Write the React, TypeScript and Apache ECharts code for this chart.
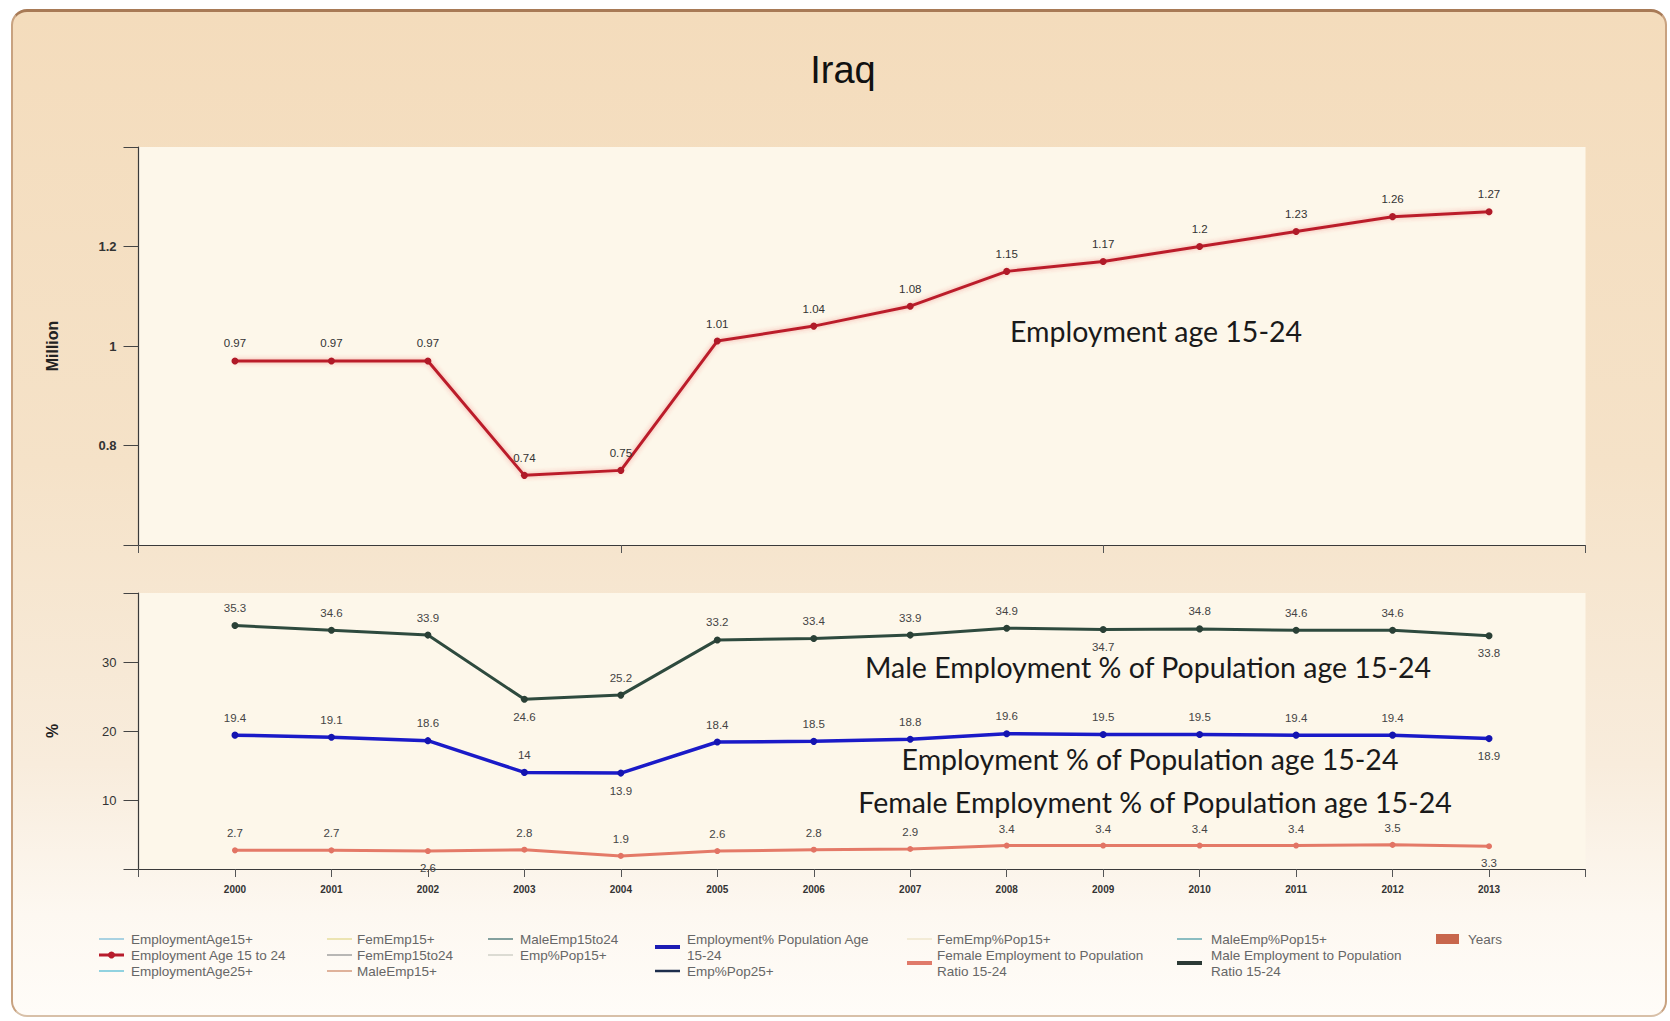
import React, { useEffect, useRef } from "react";
import * as echarts from "echarts";

// ---------- data ----------
const years = [2000, 2001, 2002, 2003, 2004, 2005, 2006, 2007, 2008, 2009, 2010, 2011, 2012, 2013];
const employment1524 = [0.97, 0.97, 0.97, 0.74, 0.75, 1.01, 1.04, 1.08, 1.15, 1.17, 1.2, 1.23, 1.26, 1.27];
const maleEmpPct = [35.3, 34.6, 33.9, 24.6, 25.2, 33.2, 33.4, 33.9, 34.9, 34.7, 34.8, 34.6, 34.6, 33.8];
const totalEmpPct = [19.4, 19.1, 18.6, 14, 13.9, 18.4, 18.5, 18.8, 19.6, 19.5, 19.5, 19.4, 19.4, 18.9];
const femaleEmpPct = [2.7, 2.7, 2.6, 2.8, 1.9, 2.6, 2.8, 2.9, 3.4, 3.4, 3.4, 3.4, 3.5, 3.3];

// indices whose value label sits below the point
const maleBelow = [3, 9, 13];
const totalBelow = [4, 13];
const femaleBelow = [2, 13];

const titleText = "Iraq";
const topAnnotation = "Employment age 15-24";
const maleAnnotation = "Male Employment % of Population age 15-24";
const totalAnnotation = "Employment % of Population age 15-24";
const femaleAnnotation = "Female Employment % of Population age 15-24";

// legend entries: [label lines, colour, kind]
const legendItems: { lines: string[]; color: string; kind: string }[] = [
  { lines: ["EmploymentAge15+"], color: "#8cc4dc", kind: "thin" },
  { lines: ["Employment Age 15 to 24"], color: "#b81c2c", kind: "marker" },
  { lines: ["EmploymentAge25+"], color: "#6cc4d8", kind: "thin" },
  { lines: ["FemEmp15+"], color: "#e6dc9c", kind: "thin" },
  { lines: ["FemEmp15to24"], color: "#a0a0a0", kind: "thin" },
  { lines: ["MaleEmp15+"], color: "#d49a7c", kind: "thin" },
  { lines: ["MaleEmp15to24"], color: "#5a8282", kind: "thin" },
  { lines: ["Emp%Pop15+"], color: "#d0d0c8", kind: "thin" },
  { lines: ["Employment% Population Age", "15-24"], color: "#1c1cb4", kind: "thick" },
  { lines: ["Emp%Pop25+"], color: "#1e2e4c", kind: "mid" },
  { lines: ["FemEmp%Pop15+"], color: "#efe6cc", kind: "thin" },
  { lines: ["Female Employment to Population", "Ratio 15-24"], color: "#e07a6a", kind: "thick" },
  { lines: ["MaleEmp%Pop15+"], color: "#64a8b0", kind: "thin" },
  { lines: ["Male Employment to Population", "Ratio 15-24"], color: "#2c3a36", kind: "thick" },
  { lines: ["Years"], color: "#c8664c", kind: "rect" },
];

const NARROW = '"Liberation Sans Narrow", "Liberation Sans", Arial, sans-serif';
const CAL = 'Lato, "Open Sans", sans-serif';

function buildData(vals: number[], below: number[]) {
  return years.map((y, i) => ({
    value: [y, vals[i]],
    label: below.indexOf(i) >= 0 ? { position: "bottom" } : { position: "top" },
  }));
}

function buildLegend() {
  const cols = [
    { sx: 99, tx: 131, items: [0, 1, 2] },
    { sx: 327, tx: 357, items: [3, 4, 5] },
    { sx: 488, tx: 520, items: [6, 7] },
    { sx: 655, tx: 687, items: [8, 9] },
    { sx: 907, tx: 937, items: [10, 11] },
    { sx: 1177, tx: 1211, items: [12, 13] },
    { sx: 1436, tx: 1468, items: [14] },
  ];
  const els: any[] = [];
  cols.forEach((c) => {
    let y = 939;
    c.items.forEach((idx) => {
      const it = legendItems[idx];
      const n = it.lines.length;
      const symY = y + ((n - 1) * 16) / 2;
      if (it.kind === "rect") {
        els.push({ type: "rect", shape: { x: c.sx, y: symY - 5, width: 23, height: 10 }, style: { fill: it.color } });
      } else {
        const w = it.kind === "thick" ? 4 : it.kind === "mid" ? 2.5 : it.kind === "marker" ? 3 : 1.5;
        els.push({ type: "line", shape: { x1: c.sx, y1: symY, x2: c.sx + 25, y2: symY }, style: { stroke: it.color, lineWidth: w } });
        if (it.kind === "marker") {
          els.push({ type: "circle", shape: { cx: c.sx + 12.5, cy: symY, r: 3.5 }, style: { fill: it.color } });
        }
      }
      it.lines.forEach((ln, k) => {
        els.push({
          type: "text",
          x: c.tx,
          y: y + k * 16,
          style: { text: ln, fill: "#666", font: `13.5px ${NARROW}`, textVerticalAlign: "middle", verticalAlign: "middle" },
        });
      });
      y += n * 16;
    });
  });
  return els;
}

export default function App() {
  const ref = useRef<HTMLDivElement>(null);
  useEffect(() => {
    if (!ref.current) return;
    const chart = echarts.init(ref.current, undefined, { renderer: "svg" });
    const axisLine = { show: true, lineStyle: { color: "#3a3a3a", width: 1.2 } };
    const gridLeft = 138.5;
    const gridRight = 1670 - 1585.5;
    const annStyle = (text: string) => ({
      text, font: `28.5px ${CAL}`, fill: "#1a1a1a", align: "center", verticalAlign: "middle", textAlign: "center", textVerticalAlign: "middle",
    });
    const option: any = {
      animation: false,
      backgroundColor: "transparent",
      grid: [
        { left: gridLeft, right: gridRight, top: 147, height: 398, show: true, backgroundColor: "#fdf7ea", borderWidth: 0 },
        { left: gridLeft, right: gridRight, top: 593, height: 276, show: true, backgroundColor: "#fdf7ea", borderWidth: 0 },
      ],
      xAxis: [
        {
          type: "value", gridIndex: 0, min: 1999, max: 2014, interval: 5,
          axisLine, splitLine: { show: false },
          axisTick: { show: true, length: 8, lineStyle: { color: "#555" } },
          axisLabel: { show: false },
        },
        {
          type: "value", gridIndex: 1, min: 1999, max: 2014, interval: 1,
          axisLine, splitLine: { show: false },
          axisTick: { show: true, length: 8, lineStyle: { color: "#555" } },
          axisLabel: {
            color: "#333", fontSize: 10, fontFamily: NARROW, fontWeight: "bold", margin: 15,
            formatter: (v: number) => (v < 2000 || v > 2013 ? "" : String(v)),
          },
        },
      ],
      yAxis: [
        {
          type: "value", gridIndex: 0, min: 0.6, max: 1.4, interval: 0.2,
          axisLine, splitLine: { show: false },
          axisTick: { show: true, length: 15, lineStyle: { color: "#444" } },
          axisLabel: {
            color: "#333", fontSize: 13, fontWeight: "bold", fontFamily: NARROW, margin: 22,
            formatter: (v: number) => {
              const r = Math.round(v * 10) / 10;
              return r <= 0.6 || r >= 1.4 ? "" : String(r);
            },
          },
          name: "Million", nameLocation: "middle", nameGap: 78,
          nameTextStyle: { fontSize: 16, fontWeight: "bold", color: "#222", fontFamily: "Liberation Sans, Arial, sans-serif" },
        },
        {
          type: "value", gridIndex: 1, min: 0, max: 40, interval: 10,
          axisLine, splitLine: { show: false },
          axisTick: { show: true, length: 15, lineStyle: { color: "#444" } },
          axisLabel: {
            color: "#333", fontSize: 13, fontFamily: NARROW, margin: 22,
            formatter: (v: number) => (v <= 0 || v >= 40 ? "" : String(v)),
          },
          name: "%", nameLocation: "middle", nameGap: 78,
          nameTextStyle: { fontSize: 16, fontWeight: "bold", color: "#222", fontFamily: "Liberation Sans, Arial, sans-serif" },
        },
      ],
      series: [
        {
          type: "line", xAxisIndex: 0, yAxisIndex: 0, name: "Employment Age 15 to 24",
          data: buildData(employment1524, []),
          symbol: "circle", symbolSize: 7,
          lineStyle: { color: "#bb1e2c", width: 3, shadowColor: "rgba(230,60,60,0.45)", shadowBlur: 5 },
          itemStyle: { color: "#b01a28" },
          label: { show: true, color: "#333", fontSize: 11.5, fontFamily: NARROW, distance: 8 },
        },
        {
          type: "line", xAxisIndex: 1, yAxisIndex: 1, name: "Male Employment to Population Ratio 15-24",
          data: buildData(maleEmpPct, maleBelow),
          symbol: "circle", symbolSize: 7,
          lineStyle: { color: "#2e4a3e", width: 3 },
          itemStyle: { color: "#2a4036" },
          label: { show: true, color: "#444", fontSize: 11.5, fontFamily: NARROW, distance: 8 },
        },
        {
          type: "line", xAxisIndex: 1, yAxisIndex: 1, name: "Employment% Population Age 15-24",
          data: buildData(totalEmpPct, totalBelow),
          symbol: "circle", symbolSize: 7,
          lineStyle: { color: "#1a1ac8", width: 3.5 },
          itemStyle: { color: "#1414b0" },
          label: { show: true, color: "#444", fontSize: 11.5, fontFamily: NARROW, distance: 8 },
        },
        {
          type: "line", xAxisIndex: 1, yAxisIndex: 1, name: "Female Employment to Population Ratio 15-24",
          data: buildData(femaleEmpPct, femaleBelow),
          symbol: "circle", symbolSize: 6,
          lineStyle: { color: "#e47a68", width: 3 },
          itemStyle: { color: "#e27464" },
          label: { show: true, color: "#444", fontSize: 11.5, fontFamily: NARROW, distance: 8 },
        },
      ],
      graphic: [
        {
          type: "text", x: 843, y: 70,
          style: { text: titleText, font: `38px "Liberation Sans", Arial, sans-serif`, fill: "#111", textAlign: "center", textVerticalAlign: "middle", align: "center", verticalAlign: "middle" },
        },
        { type: "text", x: 1156, y: 331, style: annStyle(topAnnotation) },
        { type: "text", x: 1148, y: 667, style: annStyle(maleAnnotation) },
        { type: "text", x: 1150, y: 759, style: annStyle(totalAnnotation) },
        { type: "text", x: 1155, y: 802, style: annStyle(femaleAnnotation) },
        ...buildLegend(),
      ],
    };
    chart.setOption(option);
    return () => chart.dispose();
  }, []);

  return (
    <div style={{ position: "absolute", left: 0, top: 0, width: 1670, height: 1021, background: "#ffffff", overflow: "hidden" }}>
      <div
        style={{
          position: "absolute", left: 11, top: 9, width: 1656, height: 1008, boxSizing: "border-box",
          borderRadius: 16, borderTop: "3px solid #a87a56", borderLeft: "2px solid #c8a280", borderRight: "2px solid #c8a280", borderBottom: "2px solid #d8c0a8",
          background: "linear-gradient(to bottom, #f4dcbc 0%, #f5e2c8 45%, #f8ecdc 75%, #fdf8f1 90%, #fffcf8 100%)",
        }}
      />
      <div ref={ref} style={{ position: "absolute", left: 0, top: 0, width: 1670, height: 1021 }} />
    </div>
  );
}
